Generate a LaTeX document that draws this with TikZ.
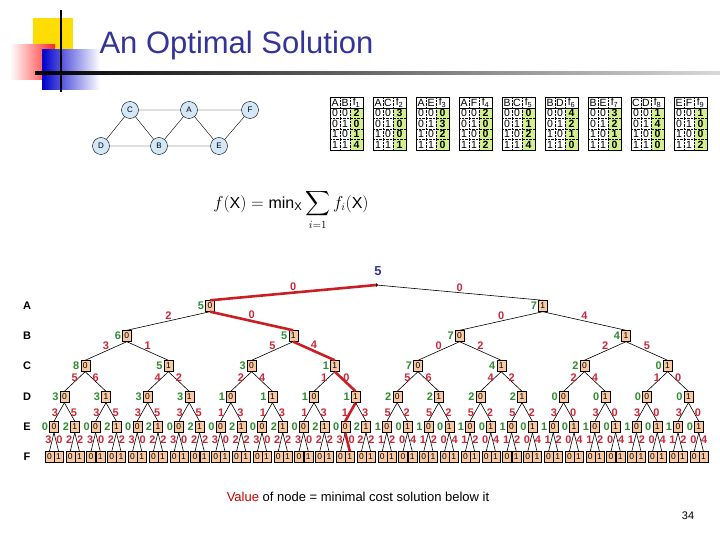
\documentclass[tikz,border=0pt]{standalone}
\usepackage{amsmath}
\usepackage{fontspec}
\setmainfont{Liberation Sans}
\begin{document}
\begin{tikzpicture}[x=1pt,y=-1pt,
  box/.style={draw,fill=boxc,minimum width=9pt,minimum height=11pt,inner sep=0pt,font=\fontsize{8.5}{9}\selectfont},
  val/.style={anchor=east,text=valc,inner sep=1pt,font=\fontsize{11}{11}\selectfont\bfseries},
  lab/.style={text=labc,inner sep=1pt,font=\fontsize{11}{11}\selectfont\bfseries},
  edge/.style={draw=black,line width=0.6pt},
  redge/.style={draw=pathc,line width=2.6pt},
  gnode/.style={circle,draw,fill=gfill,minimum size=17pt,inner sep=0pt,font=\fontsize{8}{8}\selectfont},
  rowlab/.style={font=\fontsize{11}{11}\selectfont\bfseries},
  tcell/.style={font=\fontsize{10.5}{11}\selectfont,inner sep=0pt}]
\definecolor{boxc}{HTML}{F9C9A2}
\definecolor{valc}{HTML}{2E8B2E}
\definecolor{labc}{HTML}{C8283A}
\definecolor{pathc}{HTML}{C81E24}
\definecolor{gfill}{HTML}{D2E8F8}
\definecolor{titc}{HTML}{333399}
\definecolor{tgreen}{HTML}{D4F08C}
\useasboundingbox (0,0) rectangle (720,540);
% decoration
\fill[yellow!80!orange] (33,18) rectangle (73,52);
\shade[left color=white,right color=red!85] (10,45) rectangle (55,80);
\shade[left color=blue!80!black,right color=white] (42,50) rectangle (100,90);
\draw[line width=1.6pt] (61,10) -- (61,92);
\shade[left color=black,right color=gray!30] (35,72) rectangle (720,74.5);
\node[anchor=west,text=titc,font=\fontsize{31}{33}\selectfont] (title) at (96,45) {An Optimal Solution};
% graph
\node[gnode] (gC) at (130,110) {C};
\node[gnode] (gA) at (189,110) {A};
\node[gnode] (gF) at (250,110) {F};
\node[gnode] (gD) at (101,146) {D};
\node[gnode] (gB) at (159,146) {B};
\node[gnode] (gE) at (219,146) {E};
\draw (gC)--(gA) (gA)--(gF) (gC)--(gD) (gC)--(gB) (gA)--(gB) (gA)--(gE) (gF)--(gE) (gD)--(gB) (gB)--(gE);
% tables
\foreach \t/\p/\q/\s/\va/\vb/\vc/\vd in {0/A/B/1/2/0/1/4,1/A/C/2/3/0/0/1,2/A/E/3/0/3/2/0,3/A/F/4/2/0/0/2,4/B/C/5/0/1/2/4,5/B/D/6/4/2/1/0,6/B/E/7/3/2/1/0,7/C/D/8/1/4/0/0,8/E/F/9/1/0/0/2}{
  \pgfmathsetmacro\xo{330+43*\t}
  \fill[tgreen] (\xo+20,108) rectangle (\xo+33,150);
  \draw[densely dotted] (\xo+10,97) -- (\xo+10,150) (\xo+20,97) -- (\xo+20,150)
     (\xo,118.5) -- (\xo+33,118.5) (\xo,129) -- (\xo+33,129) (\xo,139.5) -- (\xo+33,139.5);
  \draw (\xo,97) rectangle (\xo+33,150) (\xo,108) -- (\xo+33,108);
  \node[tcell] (h1\t) at (\xo+5,102.5) {\p};
  \node[tcell] (h2\t) at (\xo+15,102.5) {\q};
  \node[tcell] (h3\t) at (\xo+26.5,102.5) {f\textsubscript{\s}};
  \foreach \r/\aa/\bb/\vv in {0/0/0/\va,1/0/1/\vb,2/1/0/\vc,3/1/1/\vd}{
    \node[tcell] (c1\t\r) at (\xo+5,113.3+10.5*\r) {\aa};
    \node[tcell] (c2\t\r) at (\xo+15,113.3+10.5*\r) {\bb};
    \node[tcell,font=\fontsize{10.5}{11}\selectfont\bfseries] (c3\t\r) at (\xo+26.5,113.3+10.5*\r) {\vv};
  }
}
% formula
\node[font=\fontsize{16}{18}\selectfont] (formula) at (291,210) {$\displaystyle f(\mathrm{X}) = \min\nolimits_{\mathrm{X}} \sum_{i=1} f_i(\mathrm{X})$};
% row labels
\foreach \n/\y in {A/306,B/336,C/366,D/397,E/427,F/457}{ \node[rowlab] (r\n) at (27,\y) {\n}; }
% root
\node[text=titc,font=\fontsize{13}{13}\selectfont\bfseries] (rootlab) at (378,271) {5};
\fill (376.4,285) circle (1.8pt);
\coordinate (root) at (376.4,285);
% level A
\foreach \k in {0,1}{
  \pgfmathsetmacro\x{54+20.8*(16*\k+7.5)}
  \pgfmathtruncatemacro\vv{{5,7}[\k]}
  \node[box] (A\k) at (\x,306) {\k};
  \node[val] (vA\k) at (A\k.west) {\vv};
  \ifnum\k=0 \tikzset{cur/.style={redge}}\else\tikzset{cur/.style={edge}}\fi
  \draw[cur] (root) -- node[lab,anchor=south,pos=0.5] {0} (A\k.north);
}
% level B
\foreach \k in {0,...,3}{
  \pgfmathsetmacro\x{54+20.8*(8*\k+3.5)}
  \pgfmathtruncatemacro\bit{mod(\k,2)}
  \pgfmathtruncatemacro\pp{floor(\k/2)}
  \pgfmathtruncatemacro\vv{{6,5,7,4}[\k]}
  \pgfmathtruncatemacro\cc{{2,0,0,4}[\k]}
  \node[box] (B\k) at (\x,336) {\bit};
  \node[val] (vB\k) at (B\k.west) {\vv};
  \ifnum\k=1 \tikzset{cur/.style={redge}}\else\tikzset{cur/.style={edge}}\fi
  \draw[cur] (A\pp.south) -- node[lab,anchor=south,pos=0.5] {\cc} (B\k.north);
}
% level C
\foreach \k in {0,...,7}{
  \pgfmathsetmacro\x{54+20.8*(4*\k+1.5)}
  \pgfmathtruncatemacro\bit{mod(\k,2)}
  \pgfmathtruncatemacro\pp{floor(\k/2)}
  \pgfmathtruncatemacro\vv{{8,5,3,1,7,4,2,0}[\k]}
  \pgfmathtruncatemacro\cc{{3,1,5,4,0,2,2,5}[\k]}
  \node[box] (C\k) at (\x,366) {\bit};
  \node[val] (vC\k) at (C\k.west) {\vv};
  \ifnum\k=3 \tikzset{cur/.style={redge}}\else\tikzset{cur/.style={edge}}\fi
  \draw[cur] (B\pp.south) -- node[lab,anchor=south,pos=0.5] {\cc} (C\k.north);
}
% level D
\foreach \k in {0,...,15}{
  \pgfmathsetmacro\x{54+20.8*(2*\k+0.5)}
  \pgfmathtruncatemacro\bit{mod(\k,2)}
  \pgfmathtruncatemacro\pp{floor(\k/2)}
  \pgfmathtruncatemacro\vv{{3,3,3,3,1,1,1,1,2,2,2,2,0,0,0,0}[\k]}
  \pgfmathtruncatemacro\cc{{5,6,4,2,2,4,1,0,5,6,4,2,2,4,1,0}[\k]}
  \node[box] (D\k) at (\x,397) {\bit};
  \node[val] (vD\k) at (D\k.west) {\vv};
  \ifnum\bit=0 \def\anc{east}\else\def\anc{west}\fi
  \ifnum\k=7 \tikzset{cur/.style={redge}}\else\tikzset{cur/.style={edge}}\fi
  \draw[cur] (C\pp.south) -- node[lab,anchor=\anc,pos=0.3] {\cc} (D\k.north);
}
% level E
\foreach \k in {0,...,31}{
  \pgfmathsetmacro\x{54+20.8*\k}
  \pgfmathtruncatemacro\bit{mod(\k,2)}
  \pgfmathtruncatemacro\pp{floor(\k/2)}
  \pgfmathtruncatemacro\vv{{0,2,1,0}[(\k>15)*2+\bit]}
  \pgfmathtruncatemacro\cc{{3,5,1,3,5,2,3,0}[2*floor(\k/8)+\bit]}
  \node[box] (E\k) at (\x,427) {\bit};
  \node[val] (vE\k) at (E\k.west) {\vv};
  \ifnum\bit=0 \def\anc{east}\else\def\anc{west}\fi
  \ifnum\k=14 \tikzset{cur/.style={redge}}\else\tikzset{cur/.style={edge}}\fi
  \draw[cur] (D\pp.south) -- node[lab,anchor=\anc,pos=0.55,inner sep=0.5pt] {\cc} (E\k.north);
}
% level F
\foreach \k in {0,...,63}{
  \pgfmathtruncatemacro\bit{mod(\k,2)}
  \pgfmathtruncatemacro\pp{floor(\k/2)}
  \pgfmathsetmacro\x{54+20.8*\pp+(\bit==1?4.6:-4.6)}
  \pgfmathtruncatemacro\cc{{3,0,2,2,1,2,0,4}[(\pp>15)*4+mod(\pp,2)*2+\bit]}
  \node[box] (F\k) at (\x,457) {\bit};
  \ifnum\bit=0 \def\anc{east}\else\def\anc{west}\fi
  \ifnum\k=29 \tikzset{cur/.style={redge}}\else\tikzset{cur/.style={edge}}\fi
  \draw[cur] (E\pp.south) -- node[lab,anchor=\anc,pos=0.4,inner sep=0.3pt] {\cc} (F\k.north);
}
% caption
\node[font=\fontsize{13}{14}\selectfont] (cap) at (358,497) {\textcolor{red!80!black}{Value} of node = minimal cost solution below it};
\node[font=\fontsize{11}{12}\selectfont] (pnum) at (688,516) {34};
\end{tikzpicture}
\end{document}
